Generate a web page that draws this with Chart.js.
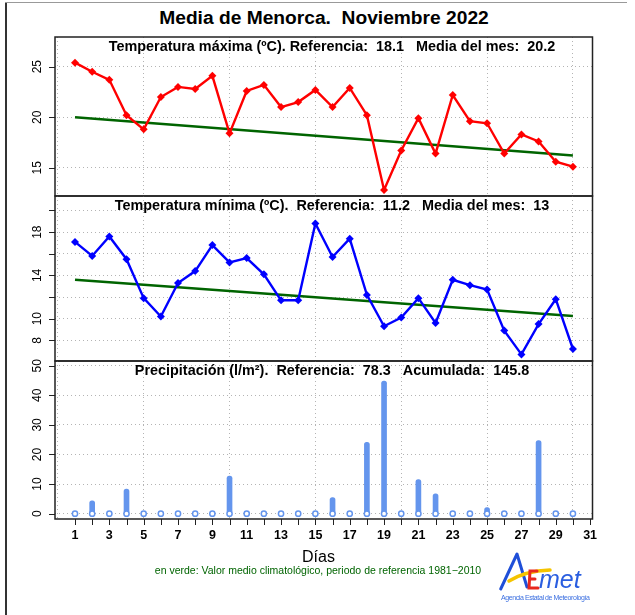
<!DOCTYPE html>
<html>
<head>
<meta charset="utf-8">
<script src="https://cdn.jsdelivr.net/npm/chart.js@4.4.0/dist/chart.umd.min.js"></script>
<style>
  html, body { margin: 0; padding: 0; background: #fff; }
  #wrap { position: relative; width: 635px; height: 615px; overflow: hidden; font-family: "Liberation Sans", Arial, sans-serif; }
  #wrap canvas { position: absolute; left: 0; top: 0; }
  .frame-l { position: absolute; left: 5px; top: 2px; width: 1.5px; height: 613px; background: #333; }
  .frame-t { position: absolute; left: 5px; top: 2px; width: 622px; height: 1px; background: #999; }
  #title { position: absolute; top: 7px; left: 0; width: 648px; text-align: center; font-weight: bold; font-size: 19.2px; white-space: pre; }
  #xlab { position: absolute; top: 548px; left: 0; width: 637px; text-align: center; font-size: 16px; }
  #note { position: absolute; top: 564px; left: 0; width: 636px; text-align: center; font-size: 10.5px; color: #006400; }
  #logo { position: absolute; left: 480px; top: 545px; }
</style>
</head>
<body>
<div id="wrap">
  <div class="frame-l"></div>
  <div class="frame-t"></div>
  <div id="title">Media de Menorca.  Noviembre 2022</div>
  <canvas id="cMax" width="635" height="615"></canvas>
  <canvas id="cMin" width="635" height="615"></canvas>
  <canvas id="cPrec" width="635" height="615"></canvas>
  <div id="xlab">Días</div>
  <div id="note">en verde: Valor medio climatológico, periodo de referencia 1981−2010</div>
  <svg id="logo" width="155" height="70" viewBox="0 0 155 70">
    <polyline points="20.7,44 37,9 47,42" fill="none" stroke="#1f4fd8" stroke-width="3" stroke-linecap="round" stroke-linejoin="round"/>
    <path d="M 29 36 Q 45 26 70 25" fill="none" stroke="#f5c400" stroke-width="3.5" stroke-linecap="round"/>
    <path d="M 57 26 L 50 26 L 49 43 L 58 43 M 49.5 34 L 55 34" fill="none" stroke="#e8281e" stroke-width="3" stroke-linecap="round"/>
    <text x="59" y="43" font-family="Liberation Sans" font-style="italic" font-size="25" fill="#2a5ee0">met</text>
    <text x="21" y="55" font-family="Liberation Sans" font-size="7" fill="#3a6ee0" textLength="89">Agencia Estatal de Meteorología</text>
  </svg>
</div>

<script>
// ===== DATA =====
const days = [1, 2, 3, 4, 5, 6, 7, 8, 9, 10, 11, 12, 13, 14, 15, 16, 17, 18, 19, 20, 21, 22, 23, 24, 25, 26, 27, 28, 29, 30];
const tMax = [25.4, 24.5, 23.7, 20.2, 18.8, 22.0, 23.0, 22.8, 24.1, 18.4, 22.6, 23.2, 21.0, 21.5, 22.7,
              21.0, 22.9, 20.2, 12.8, 16.7, 19.9, 16.4, 22.2, 19.6, 19.4, 16.4, 18.3, 17.6, 15.6, 15.1];
const tMin = [17.1, 15.8, 17.6, 15.5, 11.9, 10.2, 13.3, 14.4, 16.8, 15.2, 15.6, 14.1, 11.7, 11.7, 18.8,
              15.7, 17.4, 12.2, 9.3, 10.1, 11.9, 9.6, 13.6, 13.1, 12.7, 8.9, 6.7, 9.5, 11.8, 7.2];
const precip = [0, 4.3, 0, 8.3, 0, 0, 0, 0, 0, 12.7, 0.5, 0, 0, 0, 0,
                5.4, 0, 24.1, 44.8, 0.2, 11.5, 6.7, 0, 0, 2.1, 0, 0, 24.7, 0.5, 0];

// climatological reference (green line), start and end of month
const refDays = [1, 30];
const refMax = [20.0, 16.2];
const refMin = [13.6, 10.25];

// ===== TICKS / LABELS =====
const xGrid = [0, 5, 10, 15, 20, 25, 30];
const xTickDays = [1, 2, 3, 4, 5, 6, 7, 8, 9, 10, 11, 12, 13, 14, 15, 16, 17, 18, 19, 20, 21, 22, 23, 24, 25, 26, 27, 28, 29, 30, 31];
const xTickLabels = [1, 3, 5, 7, 9, 11, 13, 15, 17, 19, 21, 23, 25, 27, 29, 31];
const yTicksMax = [15, 20, 25];
const yLabelsMax = [15, 20, 25];
const yTicksMin = [8, 10, 12, 14, 16, 18, 20];
const yLabelsMin = [8, 10, 14, 18];
const yTicksPrec = [0, 10, 20, 30, 40, 50];
const yLabelsPrec = [0, 10, 20, 30, 40, 50];

const titleMax = 'Temperatura máxima (ºC). Referencia:  18.1   Media del mes:  20.2';
const titleMin = 'Temperatura mínima (ºC).  Referencia:  11.2   Media del mes:  13';
const titlePrec = 'Precipitación (l/m²).  Referencia:  78.3   Acumulada:  145.8';

const COLORS = {
  max: '#ff0000',
  min: '#0000ff',
  ref: '#006400',
  rain: '#6495ed',
  grid: '#b4b4b4',
  axis: '#222222',
};

const FONT = '"Liberation Sans", Arial, sans-serif';
const X_MIN = -0.165;
const X_MAX = 31.14;

// ===== DECORATION PLUGIN (frame, R-style ticks, rotated labels, panel title) =====
const panelDeco = {
  id: 'panelDeco',
  afterDraw(chart, args, opts) {
    const { ctx, chartArea: a } = chart;
    const x = chart.scales.x;
    const y = chart.scales.y;
    ctx.save();
    ctx.strokeStyle = COLORS.axis;
    ctx.lineWidth = 1;
    opts.yTicks.forEach((v) => {
      const py = Math.round(y.getPixelForValue(v)) + 0.5;
      ctx.beginPath();
      ctx.moveTo(a.left - 6, py);
      ctx.lineTo(a.left, py);
      ctx.stroke();
    });
    ctx.fillStyle = '#000';
    ctx.font = `12px ${FONT}`;
    ctx.textAlign = 'center';
    ctx.textBaseline = 'middle';
    opts.yLabels.forEach((v) => {
      ctx.save();
      ctx.translate(a.left - 17, y.getPixelForValue(v));
      ctx.rotate(-Math.PI / 2);
      ctx.fillText(String(v), 0, 0);
      ctx.restore();
    });
    if (opts.bottomAxis) {
      xTickDays.forEach((d) => {
        const px = Math.round(x.getPixelForValue(d)) + 0.5;
        ctx.beginPath();
        ctx.moveTo(px, a.bottom);
        ctx.lineTo(px, a.bottom + 6);
        ctx.stroke();
      });
      ctx.font = `bold 12.5px ${FONT}`;
      xTickLabels.forEach((d) => ctx.fillText(String(d), x.getPixelForValue(d), a.bottom + 17));
    }
    ctx.font = `bold 14.4px ${FONT}`;
    ctx.fillText(opts.title, 332, a.top + 10);
    ctx.lineWidth = 1.5;
    ctx.strokeRect(a.left, a.top, a.right - a.left, a.bottom - a.top);
    ctx.restore();
  },
};

function gridAxis(min, max, ticks, extra = {}) {
  return {
    type: 'linear',
    min,
    max,
    offset: false,
    afterBuildTicks: (s) => { s.ticks = ticks.map((v) => ({ value: v })); },
    ticks: { display: false },
    grid: { color: COLORS.grid, lineWidth: 1, drawTicks: false, offset: false },
    border: { display: false, dash: [1, 3] },
    ...extra,
  };
}

function baseOptions(padding, yMin, yMax, yTicks, deco) {
  return {
    responsive: false,
    animation: false,
    layout: { padding },
    scales: {
      x: gridAxis(X_MIN, X_MAX, xGrid, { position: 'bottom' }),
      y: gridAxis(yMin, yMax, yTicks, { position: 'left' }),
    },
    plugins: {
      legend: { display: false },
      tooltip: { enabled: false },
      panelDeco: deco,
    },
  };
}

function tempPanel(canvasId, values, refValues, color, padding, yMin, yMax, yTicks, yLabels, title) {
  return new Chart(document.getElementById(canvasId), {
    type: 'line',
    data: {
      datasets: [
        {
          data: days.map((d, i) => ({ x: d, y: values[i] })),
          borderColor: color,
          backgroundColor: color,
          borderWidth: 2.4,
          pointStyle: 'rectRot',
          pointRadius: 4,
          pointBorderWidth: 0,
          tension: 0,
          order: 0,
        },
        {
          data: refDays.map((d, i) => ({ x: d, y: refValues[i] })),
          borderColor: COLORS.ref,
          borderWidth: 2.5,
          pointRadius: 0,
          order: 1,
        },
      ],
    },
    options: baseOptions(padding, yMin, yMax, yTicks, { yTicks, yLabels, title }),
    plugins: [panelDeco],
  });
}

// ===== TEMPERATURA MAXIMA =====
tempPanel('cMax', tMax, refMax, COLORS.max,
  { left: 55, right: 42.5, top: 37, bottom: 419 },
  12.2, 27.94, yTicksMax, yLabelsMax, titleMax);

// ===== TEMPERATURA MINIMA =====
tempPanel('cMin', tMin, refMin, COLORS.min,
  { left: 55, right: 42.5, top: 196, bottom: 254 },
  6.09, 21.34, yTicksMin, yLabelsMin, titleMin);

// ===== PRECIPITACION =====
new Chart(document.getElementById('cPrec'), {
  type: 'bar',
  data: {
    datasets: [
      {
        type: 'line',
        data: days.map((d) => ({ x: d, y: 0 })),
        showLine: false,
        pointStyle: 'circle',
        pointRadius: 2.6,
        pointBorderWidth: 1.5,
        pointBorderColor: COLORS.rain,
        pointBackgroundColor: '#ffffff',
        order: 0,
      },
      {
        data: days.map((d, i) => ({ x: d, y: precip[i] })),
        backgroundColor: COLORS.rain,
        barThickness: 5,
        borderRadius: 2.5,
        borderSkipped: false,
        order: 1,
      },
    ],
  },
  options: baseOptions({ left: 55, right: 42.5, top: 361, bottom: 96 },
    -1.8, 51.6, yTicksPrec, { yTicks: yTicksPrec, yLabels: yLabelsPrec, title: titlePrec, bottomAxis: true }),
  plugins: [panelDeco],
});
</script>
</body>
</html>
